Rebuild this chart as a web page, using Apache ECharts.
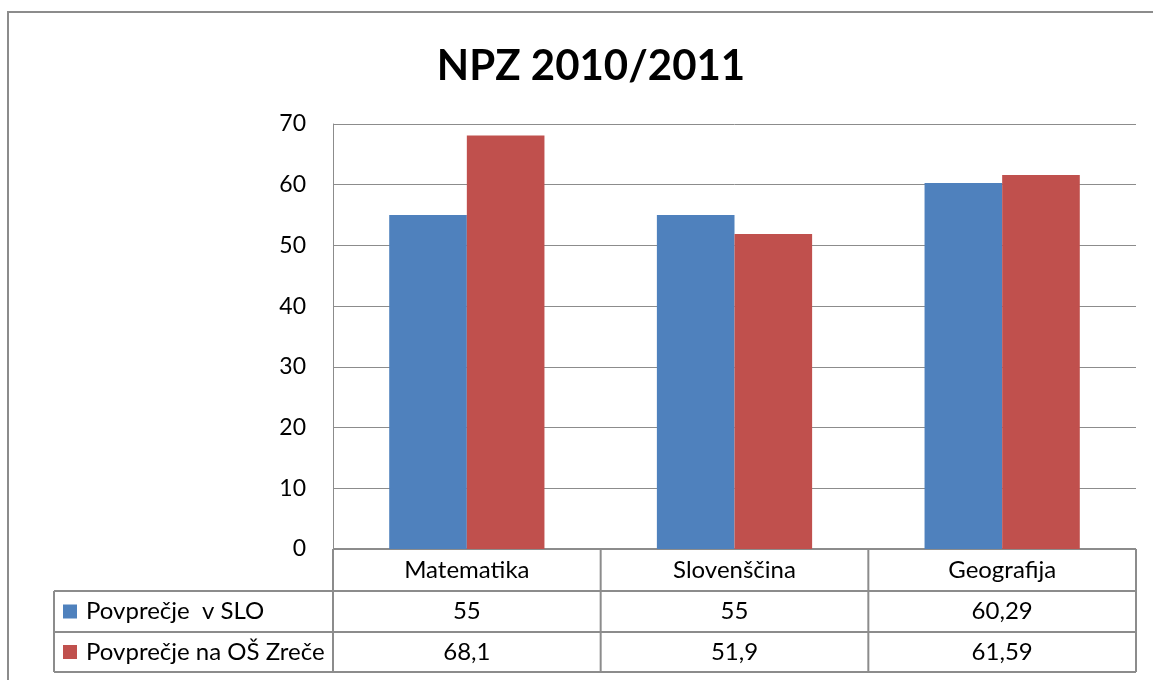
<!DOCTYPE html>
<html>
<head>
<meta charset="utf-8">
<script src="https://cdn.jsdelivr.net/npm/echarts@6/dist/echarts.min.js"></script>
<style>
    html, body { margin: 0; padding: 0; background: #fff; }
    #chartBar { width: 1153px; height: 680px; }
</style>
</head>
<body>
<div id="chartBar"></div>
<script>
    // podatki
    var categories = ['Matematika', 'Slovenščina', 'Geografija'];
    var seriesNames = ['Povprečje  v SLO', 'Povprečje na OŠ Zreče'];
    var sloValues = [55, 55, 60.29];
    var zreceValues = [68.1, 51.9, 61.59];
    var seriesColors = ['#4F81BD', '#C0504D'];
    var yTicks = { min: 0, max: 70, interval: 10 };

    var font = 'Lato, "Open Sans", sans-serif';
    var lineColor = '#8c8c8c';

    // postavitev
    var plotLeft = 333, plotRight = 1136, plotTop = 124, plotBottom = 549;
    var tableLeft = 54;
    var rowLines = [549, 591, 632, 672];

    function fmt(v) {
        return String(v).replace('.', ',');
    }

    function line(x1, y1, x2, y2) {
        return {
            type: 'line',
            silent: true,
            shape: { x1: x1, y1: y1, x2: x2, y2: y2 },
            style: { stroke: lineColor, lineWidth: 2 }
        };
    }

    // tabela pod grafom
    function buildTable() {
        var els = [];
        var colW = (plotRight - plotLeft) / categories.length;
        // vodoravne crte
        els.push(line(plotLeft, rowLines[0], plotRight, rowLines[0]));
        for (var r = 1; r < rowLines.length; r++) {
            els.push(line(tableLeft, rowLines[r], plotRight, rowLines[r]));
        }
        // navpicne crte
        els.push(line(tableLeft, rowLines[1], tableLeft, rowLines[3]));
        for (var c = 0; c <= categories.length; c++) {
            var x = plotLeft + c * colW;
            els.push(line(x, rowLines[0], x, rowLines[3]));
        }
        var rows = [sloValues, zreceValues];
        for (var i = 0; i < rows.length; i++) {
            var cy = (rowLines[i + 1] + rowLines[i + 2]) / 2;
            els.push({
                type: 'rect',
                silent: true,
                shape: { x: 63, y: cy - 7, width: 14, height: 14 },
                style: { fill: seriesColors[i] }
            });
            els.push({
                type: 'text',
                silent: true,
                x: 86, y: cy,
                style: { text: seriesNames[i], font: '24px ' + font, fill: '#000', textVerticalAlign: 'middle', verticalAlign: 'middle' }
            });
            for (var j = 0; j < rows[i].length; j++) {
                els.push({
                    type: 'text',
                    silent: true,
                    x: plotLeft + (j + 0.5) * colW, y: cy,
                    style: { text: fmt(rows[i][j]), font: '24px ' + font, fill: '#000', align: 'center', textAlign: 'center', verticalAlign: 'middle', textVerticalAlign: 'middle' }
                });
            }
        }
        // okvir grafa
        els.push({
            type: 'rect',
            silent: true,
            shape: { x: 8, y: 12, width: 1300, height: 800 },
            style: { fill: 'none', stroke: lineColor, lineWidth: 2 }
        });
        return els;
    }

    var chartBar = echarts.init(document.getElementById('chartBar'));
    chartBar.setOption({
        animation: false,
        backgroundColor: '#fff',
        textStyle: { fontFamily: font },
        title: {
            text: 'NPZ 2010/2011',
            left: 586,
            top: 40,
            textAlign: 'center',
            textStyle: { fontSize: 42, fontWeight: 'bold', color: '#000', fontFamily: font }
        },
        legend: { show: false, data: seriesNames },
        grid: {
            left: plotLeft,
            right: 1153 - plotRight,
            top: plotTop,
            bottom: 680 - plotBottom,
            containLabel: false
        },
        xAxis: {
            type: 'category',
            data: categories,
            axisLine: { show: false },
            axisTick: { show: false },
            axisLabel: { fontSize: 24, color: '#000', margin: 9, fontFamily: font }
        },
        yAxis: {
            type: 'value',
            min: yTicks.min,
            max: yTicks.max,
            interval: yTicks.interval,
            axisLine: { show: true, lineStyle: { color: lineColor, width: 1 } },
            axisTick: { show: false },
            axisLabel: { fontSize: 23, color: '#000', margin: 27, fontFamily: font },
            splitLine: { lineStyle: { color: lineColor, width: 1 } }
        },
        series: [
            {
                name: seriesNames[0],
                type: 'bar',
                data: sloValues,
                barGap: 0,
                barCategoryGap: '42%',
                itemStyle: { color: seriesColors[0] }
            },
            {
                name: seriesNames[1],
                type: 'bar',
                data: zreceValues,
                barGap: 0,
                barCategoryGap: '42%',
                itemStyle: { color: seriesColors[1] }
            }
        ],
        graphic: buildTable()
    });
</script>
</body>
</html>
